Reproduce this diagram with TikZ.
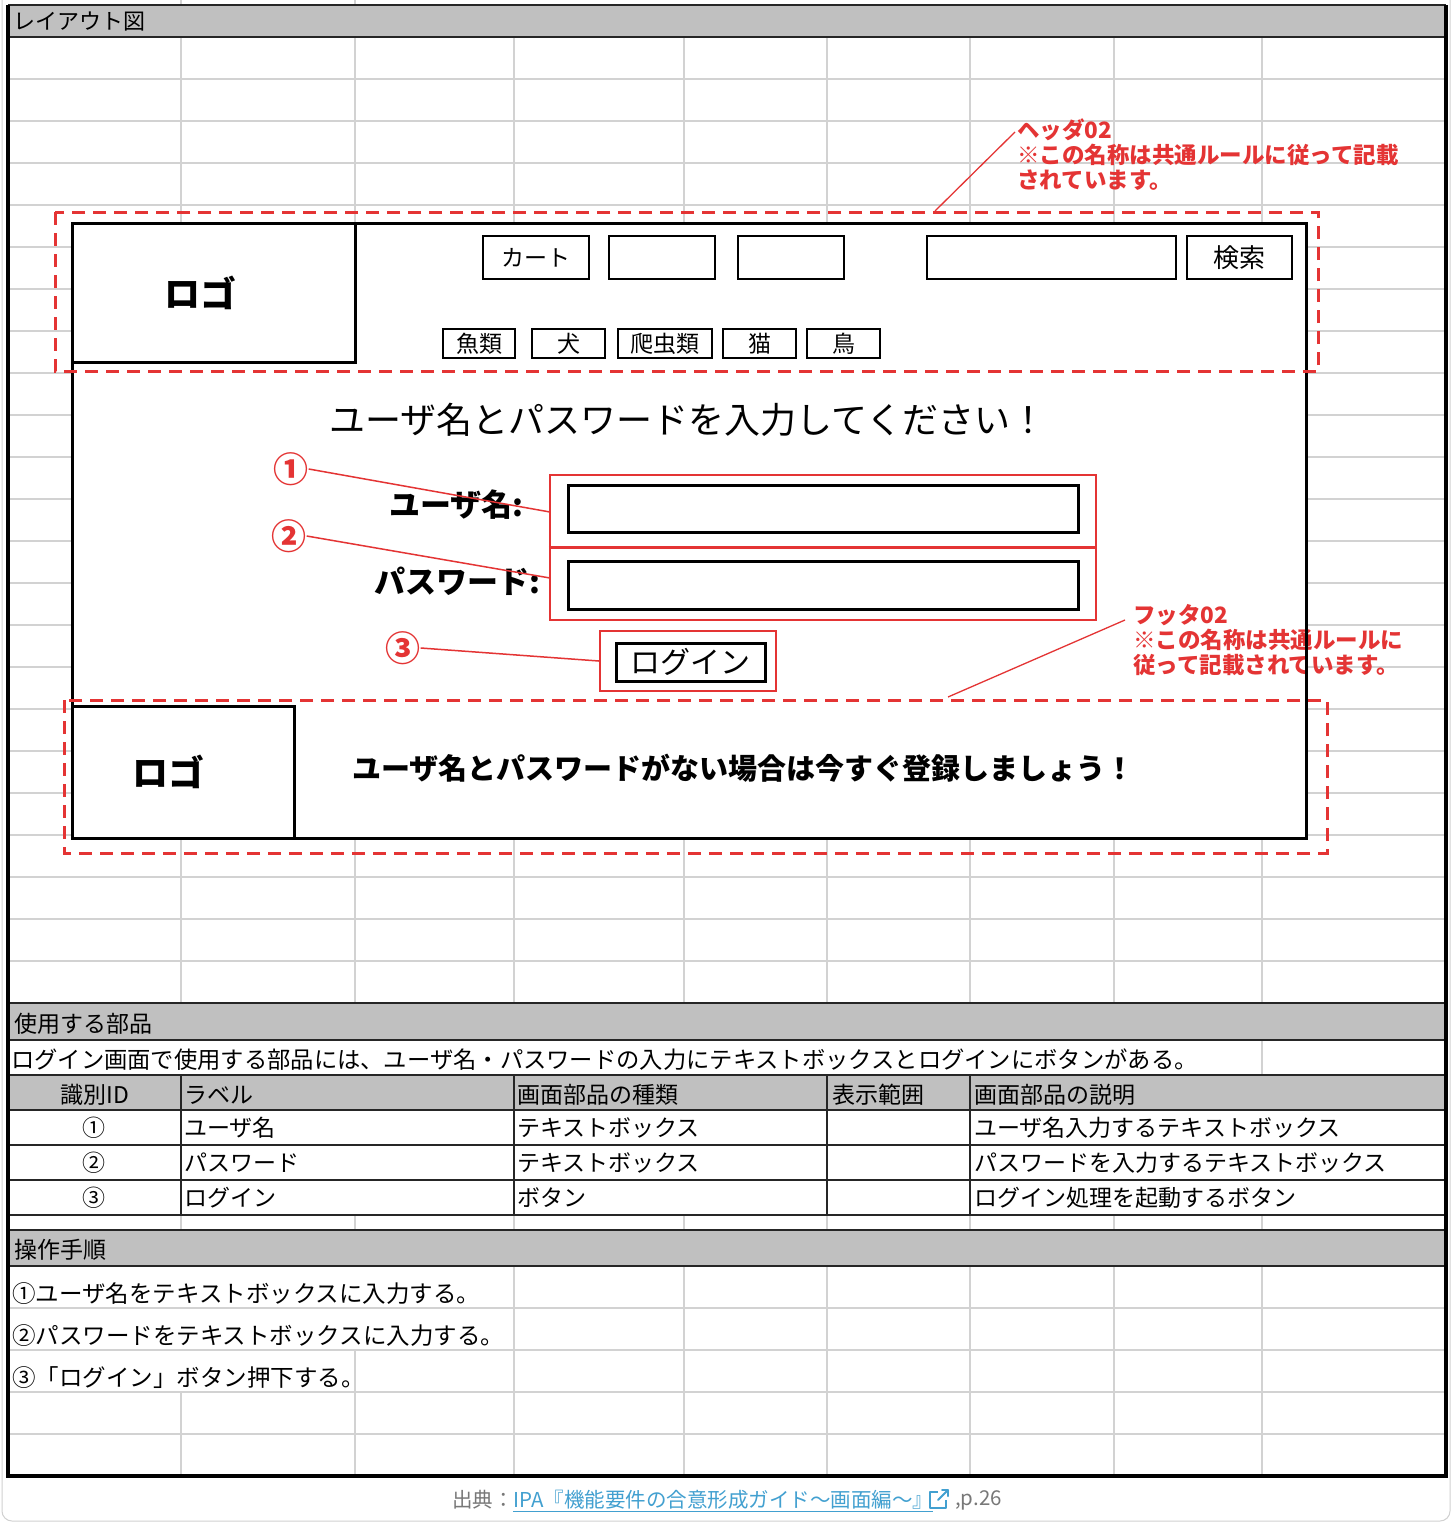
\documentclass[tikz,border=0pt]{standalone}
\usepackage{fontspec}
\setmainfont{Noto Sans CJK JP}
\definecolor{gridc}{RGB}{210,210,210}
\definecolor{bandc}{RGB}{192,192,192}
\definecolor{redc}{RGB}{228,52,52}
\definecolor{capc}{RGB}{120,120,120}
\definecolor{linkc}{RGB}{66,160,208}
\newcommand\myfs[2]{\fontsize{#1}{#2}\selectfont}
\begin{document}
\begin{tikzpicture}[x=1pt,y=-1pt,
  gridl/.style={gridc, line width=1.4pt},
  darkl/.style={black!85, line width=1.8pt},
  reddash/.style={redc, line width=3pt, dash pattern=on 13pt off 8pt},
  blk/.style={draw=black, line width=3pt, inner sep=0pt, fill=white},
  navbtn/.style={draw=black, line width=2.8pt, inner sep=0pt, fill=white, font=\myfs{23}{23}},
  redbox/.style={draw=redc, line width=2.2pt, inner sep=0pt},
  redline/.style={redc, line width=1.5pt},
  cell/.style={inner sep=0pt, anchor=west, font=\myfs{23}{23}},
  note/.style={inner sep=0pt, anchor=west, align=left, text=redc, font=\myfs{22.5}{25}\bfseries},
  circ/.style={inner sep=0pt, text=redc, font=\myfs{35}{35}\bfseries},
]
\useasboundingbox (0,0) rectangle (1452,1524);
\fill[white] (0,0) rectangle (1452,1524);
% card border
\draw[black!18, line width=1pt, rounded corners=10pt] (2,0) -- (2,1521) -- (1450,1521) -- (1450,0);

% ---------- light grid ----------
\draw[gridl] (181,0) -- (181,5);
\draw[gridl] (355,0) -- (355,5);
\foreach \yy in {79,121,...,961} \draw[gridl] (8,\yy) -- (1446,\yy);
\foreach \xx in {181,355,514,684,827,970,1114,1262} \draw[gridl] (\xx,37) -- (\xx,1003);
\draw[gridl] (1262,1040) -- (1262,1075);
\foreach \xx in {181,355,514,684,827,970,1114,1262} \draw[gridl] (\xx,1215) -- (\xx,1230);
\foreach \xx in {514,684,827,970,1114,1262} \draw[gridl] (\xx,1266) -- (\xx,1476);
\draw[gridl] (355,1350) -- (355,1476);
\draw[gridl] (181,1392) -- (181,1476);
\foreach \yy in {1308,1350,1392,1434} \draw[gridl] (8,\yy) -- (1446,\yy);

% ---------- bands and table lines ----------
\fill[bandc] (8,5) rectangle (1446,37);
\fill[bandc] (8,1003) rectangle (1446,1040);
\fill[bandc] (8,1075) rectangle (1446,1110);
\fill[bandc] (8,1230) rectangle (1446,1266);
\foreach \yy in {5,37,1003,1040,1075,1110,1145,1180,1215,1230,1266} \draw[darkl] (8,\yy) -- (1446,\yy);
\foreach \xx in {181,514,827,970} \draw[darkl] (\xx,1075) -- (\xx,1215);
\draw[black, line width=3.5pt] (8,5) -- (8,1476) -- (1446,1476) -- (1446,5);

% ---------- section titles ----------
\node[cell, font=\myfs{22}{22}] (t1) at (13,22) {レイアウト図};
\node[cell] (t2) at (14,1024) {使用する部品};
\node[cell, font=\myfs{23.3}{23.3}] (t3) at (11,1060) {ログイン画面で使用する部品には、ユーザ名・パスワードの入力にテキストボックスとログインにボタンがある。};
\node[cell, anchor=center] (h1) at (95,1095) {識別ID};
\node[cell] (h2) at (184,1095) {ラベル};
\node[cell] (h3) at (517,1095) {画面部品の種類};
\node[cell] (h4) at (832,1095) {表示範囲};
\node[cell] (h5) at (974,1095) {画面部品の説明};
\node[cell, anchor=center] (r1a) at (94,1128) {①};
\node[cell] (r1b) at (184,1128) {ユーザ名};
\node[cell] (r1c) at (517,1128) {テキストボックス};
\node[cell] (r1d) at (974,1128) {ユーザ名入力するテキストボックス};
\node[cell, anchor=center] (r2a) at (94,1163) {②};
\node[cell] (r2b) at (184,1163) {パスワード};
\node[cell] (r2c) at (517,1163) {テキストボックス};
\node[cell] (r2d) at (974,1163) {パスワードを入力するテキストボックス};
\node[cell, anchor=center] (r3a) at (94,1198) {③};
\node[cell] (r3b) at (184,1198) {ログイン};
\node[cell] (r3c) at (517,1198) {ボタン};
\node[cell] (r3d) at (974,1198) {ログイン処理を起動するボタン};
\node[cell] (t4) at (14,1250) {操作手順};
\node[cell, font=\myfs{23.5}{23.5}] (s1) at (12,1294) {①ユーザ名をテキストボックスに入力する。};
\node[cell, font=\myfs{23.5}{23.5}] (s2) at (12,1336) {②パスワードをテキストボックスに入力する。};
\node[cell, font=\myfs{23.5}{23.5}] (s3) at (12,1378) {③「ログイン」ボタン押下する。};

% ---------- layout mockup ----------
\fill[white] (72,223) rectangle (1306,838);
\node[note] (fnote) at (1133,640) {フッタ02\\※この名称は共通ルールに\\従って記載されています。};
\node[draw=black, line width=3pt, inner sep=0pt, minimum width=1234pt, minimum height=615pt] (frame) at (689,530.5) {};

\node[note] (hnote) at (1017,155) {ヘッダ02\\※この名称は共通ルールに従って記載\\されています。};
\coordinate (hpt) at (935,211);
\coordinate (htip) at (1015,132);
\draw[redline, line width=1.3pt] (hpt) -- (htip);
\coordinate (fpt) at (948,697);
\coordinate (ftip) at (1125,620);
\draw[redline, line width=1.3pt] (fpt) -- (ftip);

% header
\node[blk, minimum width=283pt, minimum height=139pt, font=\myfs{36}{36}\bfseries] (hlogo) at (213.5,292.5) {\hspace*{-26pt}ロゴ};
\node[navbtn, minimum width=106pt, minimum height=43pt] (cart) at (536,257.5) {\raisebox{-2pt}{カート}};
\node[navbtn, minimum width=106pt, minimum height=43pt] (nb2) at (662,257.5) {};
\node[navbtn, minimum width=106pt, minimum height=43pt] (nb3) at (791,257.5) {};
\node[navbtn, minimum width=249pt, minimum height=43pt] (sinput) at (1051.5,257.5) {};
\node[navbtn, minimum width=105pt, minimum height=43pt, font=\myfs{26}{26}] (sbtn) at (1239.5,257.5) {\raisebox{-3pt}{検索}};
\node[navbtn, minimum width=72pt, minimum height=29pt] (cat1) at (479,343.5) {魚類};
\node[navbtn, minimum width=73pt, minimum height=29pt] (cat2) at (568.5,343.5) {犬};
\node[navbtn, minimum width=94pt, minimum height=29pt] (cat3) at (665,343.5) {爬虫類};
\node[navbtn, minimum width=73pt, minimum height=29pt] (cat4) at (759.5,343.5) {猫};
\node[navbtn, minimum width=73pt, minimum height=29pt] (cat5) at (843.5,343.5) {鳥};

% form
\node[inner sep=0pt, font=\myfs{36}{36}] (title) at (688,420) {ユーザ名とパスワードを入力してください！};
\node[redbox, minimum width=546pt, minimum height=145pt] (fields) at (823,547.5) {};
\draw[redc, line width=2.2pt] (fields.west) -- (fields.east);
\node[blk, minimum width=510pt, minimum height=47pt] (ubox) at (823,508.5) {};
\node[blk, minimum width=510pt, minimum height=48pt] (pbox) at (823,585) {};
\node[inner sep=0pt, anchor=east, font=\myfs{31}{31}\bfseries] (ulabel) at (524,505) {ユーザ名:};
\node[inner sep=0pt, anchor=east, font=\myfs{31}{31}\bfseries] (plabel) at (541,581) {パスワード:};
\node[redbox, minimum width=176pt, minimum height=60pt] (loginred) at (688,661) {};
\node[blk, minimum width=149pt, minimum height=38pt, font=\myfs{30}{30}] (login) at (690.5,662) {ログイン};

\node[circ] (c1) at (291,469) {①};
\node[circ] (c2) at (289,536) {②};
\node[circ] (c3) at (403,648) {③};
\coordinate (ufield) at (550,512);
\coordinate (pfield) at (550,578);
\draw[redline] (c1.east) -- (ufield);
\draw[redline] (c2.east) -- (pfield);
\draw[redline] (c3.east) -- (loginred.west);

% footer
\node[blk, minimum width=222pt, minimum height=132pt, font=\myfs{36}{36}\bfseries] (flogo) at (183,772) {\hspace*{-30pt}ロゴ};
\node[inner sep=0pt, anchor=west, font=\myfs{29}{29}\bfseries] (ftext) at (352,768) {ユーザ名とパスワードがない場合は今すぐ登録しましょう！};

\draw[reddash] (55,212) rectangle (1318,371);
\draw[reddash] (64,700) rectangle (1327,853);

% ---------- caption ----------
\node[inner sep=0pt, anchor=west, text=capc, font=\myfs{20.5}{20.5}] (src) at (452,1500) {出典：};
\node[inner sep=0pt, anchor=west, text=linkc, font=\myfs{20.5}{20.5}] (link) at (513,1500) {IPA『機能要件の合意形成ガイド～画面編～』};
\draw[linkc, line width=1.3pt] (513,1511.5) -- (link.east |- 0,1511.5);
\draw[linkc, line width=2pt, line join=round] (938,1492) -- (930,1492) -- (930,1508) -- (946,1508) -- (946,1500);
\draw[linkc, line width=2pt, line cap=round] (938,1500) -- (948,1490);
\draw[linkc, line width=2pt, line cap=round, line join=round] (942,1490) -- (948,1490) -- (948,1496);
\node[inner sep=0pt, anchor=west, text=capc, font=\myfs{20.5}{20.5}] (page) at (955,1500) {,p.26};
\end{tikzpicture}
\end{document}
